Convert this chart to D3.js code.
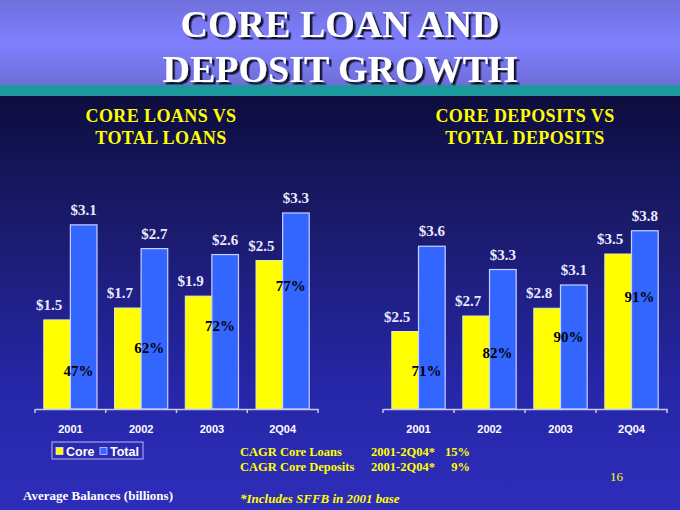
<!DOCTYPE html>
<html>
<head>
<meta charset="utf-8">
<script src="https://cdn.jsdelivr.net/npm/d3@7/dist/d3.min.js"></script>
<style>
  body { margin: 0; padding: 0; background: #2c2cb8; }
  svg { display: block; }
  .serif { font-family: "Liberation Serif", "Times New Roman", serif; font-weight: bold; }
  .sans { font-family: "Liberation Sans", Arial, sans-serif; font-weight: bold; }
</style>
</head>
<body>
<script>
(function(){

    //chart data
    var categories = ["2001", "2002", "2003", "2Q04"];
    var loansCore = [1.5, 1.7, 1.9, 2.5];
    var loansTotal = [3.1, 2.7, 2.6, 3.3];
    var loansPct = ["47%", "62%", "72%", "77%"];
    var depositsCore = [2.5, 2.7, 2.8, 3.5];
    var depositsTotal = [3.6, 3.3, 3.1, 3.8];
    var depositsPct = ["71%", "82%", "90%", "91%"];

    var width = 680, height = 510;

    var svg = d3.select("body")
        .append("svg")
        .attr("width", width)
        .attr("height", height);

    setBackground(svg);
    setTitles(svg);

    //left chart: loans, axis starting at zero
    drawChart(svg, {
        x0: 35, x1: 318,
        domain: [0, 3.5], top: 409 - 3.5 * 59.4,
        core: loansCore, total: loansTotal, pct: loansPct,
        pctDy: [56, 45, 35, 30]
    });

    //right chart: deposits, axis starts at 1.5
    drawChart(svg, {
        x0: 383, x1: 667,
        domain: [1.5, 4], top: 409 - 2.5 * 77.5,
        core: depositsCore, total: depositsTotal, pct: depositsPct,
        pctDy: [44, 42, 34, 48]
    });

    setFooter(svg);

    function setBackground(svg){
        var defs = svg.append("defs");

        var topGrad = defs.append("linearGradient")
            .attr("id", "topGrad")
            .attr("x1", 0).attr("y1", 0).attr("x2", 0).attr("y2", 1);
        topGrad.append("stop").attr("offset", "0%").attr("stop-color", "#6f6fdc");
        topGrad.append("stop").attr("offset", "50%").attr("stop-color", "#8080ff");
        topGrad.append("stop").attr("offset", "100%").attr("stop-color", "#6e6ed8");

        var bodyGrad = defs.append("linearGradient")
            .attr("id", "bodyGrad")
            .attr("x1", 0).attr("y1", 0).attr("x2", 0).attr("y2", 1);
        bodyGrad.append("stop").attr("offset", "0%").attr("stop-color", "#0d0d3e");
        bodyGrad.append("stop").attr("offset", "30%").attr("stop-color", "#1a1a6a");
        bodyGrad.append("stop").attr("offset", "70%").attr("stop-color", "#2626a8");
        bodyGrad.append("stop").attr("offset", "100%").attr("stop-color", "#2d2dbb");

        var shadow = defs.append("filter").attr("id", "shadow")
            .attr("x", "-10%").attr("y", "-10%").attr("width", "120%").attr("height", "130%");
        shadow.append("feDropShadow")
            .attr("dx", 2.5).attr("dy", 2.5).attr("stdDeviation", 0.4)
            .attr("flood-color", "#111122").attr("flood-opacity", 0.95);

        svg.append("rect").attr("width", width).attr("height", 85).attr("fill", "url(#topGrad)");
        svg.append("rect").attr("y", 85).attr("width", width).attr("height", 11).attr("fill", "#1b999c");
        svg.append("rect").attr("y", 96).attr("width", width).attr("height", height - 96).attr("fill", "url(#bodyGrad)");
    };

    function setTitles(svg){
        var title = svg.append("text")
            .attr("class", "serif")
            .attr("text-anchor", "middle")
            .attr("font-size", 38)
            .attr("fill", "#ffffff")
            .attr("filter", "url(#shadow)");
        title.append("tspan").attr("x", 340).attr("y", 37).text("CORE LOAN AND");
        title.append("tspan").attr("x", 340).attr("y", 82).text("DEPOSIT GROWTH");

        var subs = [
            {x: 161, lines: ["CORE LOANS VS", "TOTAL LOANS"]},
            {x: 525, lines: ["CORE DEPOSITS VS", "TOTAL DEPOSITS"]}
        ];
        subs.forEach(function(s){
            var t = svg.append("text")
                .attr("class", "serif")
                .attr("text-anchor", "middle")
                .attr("font-size", 18)
                .attr("letter-spacing", 0.4)
                .attr("fill", "#ffff00");
            t.append("tspan").attr("x", s.x).attr("y", 122).text(s.lines[0]);
            t.append("tspan").attr("x", s.x).attr("y", 144).text(s.lines[1]);
        });
    };

    function drawChart(svg, opt){
        var baseY = 409;

        var x = d3.scaleBand()
            .domain(categories)
            .range([opt.x0, opt.x1]);

        var xInner = d3.scaleBand()
            .domain(["core", "total"])
            .range([0, x.bandwidth()])
            .paddingOuter(0.33);

        var y = d3.scaleLinear()
            .domain(opt.domain)
            .range([baseY, opt.top]);

        var rows = categories.map(function(c, i){
            return {cat: c, core: opt.core[i], total: opt.total[i], pct: opt.pct[i], dy: opt.pctDy[i]};
        });

        var g = svg.append("g");

        //core bars
        g.selectAll(".core")
            .data(rows)
            .enter()
            .append("rect")
            .attr("class", "core")
            .attr("x", function(d){ return x(d.cat) + xInner("core"); })
            .attr("y", function(d){ return y(d.core); })
            .attr("width", xInner.bandwidth())
            .attr("height", function(d){ return baseY - y(d.core); })
            .attr("fill", "#ffff00")
            .attr("stroke", "#e8e8c0")
            .attr("stroke-width", 1);

        //total bars
        g.selectAll(".total")
            .data(rows)
            .enter()
            .append("rect")
            .attr("class", "total")
            .attr("x", function(d){ return x(d.cat) + xInner("total"); })
            .attr("y", function(d){ return y(d.total); })
            .attr("width", xInner.bandwidth())
            .attr("height", function(d){ return baseY - y(d.total); })
            .attr("fill", "#3366ff")
            .attr("stroke", "#c8d0ff")
            .attr("stroke-width", 1.2);

        //value labels
        g.selectAll(".coreLabel")
            .data(rows)
            .enter()
            .append("text")
            .attr("class", "serif")
            .attr("text-anchor", "middle")
            .attr("font-size", 15)
            .attr("fill", "#eaeaff")
            .attr("x", function(d){ return x(d.cat) + xInner("core") + xInner.bandwidth() / 2 - 8; })
            .attr("y", function(d){ return y(d.core) - 10; })
            .text(function(d){ return "$" + d.core.toFixed(1); });

        g.selectAll(".totalLabel")
            .data(rows)
            .enter()
            .append("text")
            .attr("class", "serif")
            .attr("text-anchor", "middle")
            .attr("font-size", 15)
            .attr("fill", "#eaeaff")
            .attr("x", function(d){ return x(d.cat) + xInner("total") + xInner.bandwidth() / 2; })
            .attr("y", function(d){ return y(d.total) - 10; })
            .text(function(d){ return "$" + d.total.toFixed(1); });

        //core share of total
        g.selectAll(".pctLabel")
            .data(rows)
            .enter()
            .append("text")
            .attr("class", "serif")
            .attr("text-anchor", "middle")
            .attr("font-size", 15)
            .attr("fill", "#000000")
            .attr("x", function(d){ return x(d.cat) + xInner("total") + 8; })
            .attr("y", function(d){ return y(d.core) + d.dy; })
            .text(function(d){ return d.pct; });

        //category axis
        var axis = g.append("g")
            .attr("transform", "translate(0," + baseY + ")")
            .call(d3.axisBottom(x).tickSize(0).tickPadding(16));
        axis.select(".domain").attr("stroke", "#c8c8e8").attr("stroke-width", 1.5);
        axis.selectAll("text")
            .attr("class", "sans")
            .attr("font-size", 11)
            .attr("fill", "#ffffff");

        //boundary ticks
        var bounds = categories.map(function(c){ return x(c); }).concat([opt.x1]);
        axis.selectAll(".bound")
            .data(bounds)
            .enter()
            .append("line")
            .attr("x1", function(d){ return d; })
            .attr("x2", function(d){ return d; })
            .attr("y1", 0)
            .attr("y2", 4)
            .attr("stroke", "#c8c8e8")
            .attr("stroke-width", 1.5);
    };

    function setFooter(svg){
        //legend
        var legend = svg.append("g");
        legend.append("rect")
            .attr("x", 52).attr("y", 442).attr("width", 91).attr("height", 17)
            .attr("fill", "none").attr("stroke", "#b8b8f0").attr("stroke-width", 1);
        legend.append("rect")
            .attr("x", 56).attr("y", 447.5).attr("width", 7).attr("height", 7)
            .attr("fill", "#ffff00").attr("stroke", "#e8e8c0").attr("stroke-width", 0.8);
        legend.append("text")
            .attr("class", "sans").attr("x", 66).attr("y", 455.5)
            .attr("font-size", 12.5).attr("fill", "#ffffff").text("Core");
        legend.append("rect")
            .attr("x", 100).attr("y", 447.5).attr("width", 7).attr("height", 7)
            .attr("fill", "#3366ff").attr("stroke", "#c8d0ff").attr("stroke-width", 0.8);
        legend.append("text")
            .attr("class", "sans").attr("x", 110).attr("y", 455.5)
            .attr("font-size", 12.5).attr("fill", "#ffffff").text("Total");

        var cagrLabels = ["CAGR Core Loans", "CAGR Core Deposits"];
        var cagrValues = ["15%", "9%"];
        cagrLabels.forEach(function(label, i){
            var yy = 456 + i * 15;
            svg.append("text").attr("class", "serif").attr("x", 240).attr("y", yy)
                .attr("font-size", 12.5).attr("fill", "#ffff00").text(label);
            svg.append("text").attr("class", "serif").attr("x", 435).attr("y", yy)
                .attr("text-anchor", "end")
                .attr("font-size", 12.5).attr("fill", "#ffff00").text("2001-2Q04*");
            svg.append("text").attr("class", "serif").attr("x", 470).attr("y", yy)
                .attr("text-anchor", "end")
                .attr("font-size", 12.5).attr("fill", "#ffff00").text(cagrValues[i]);
        });

        svg.append("text").attr("class", "serif").attr("x", 23).attr("y", 500)
            .attr("font-size", 13).attr("fill", "#ffffff").text("Average Balances (billions)");

        svg.append("text").attr("class", "serif").attr("x", 240).attr("y", 503)
            .attr("font-size", 13).attr("font-style", "italic").attr("fill", "#ffff00")
            .text("*Includes SFFB in 2001 base");

        svg.append("text").attr("x", 610).attr("y", 481)
            .attr("font-family", "Liberation Serif, Times New Roman, serif")
            .attr("font-size", 13).attr("fill", "#ffff00").text("16");
    };

})();
</script>
</body>
</html>
